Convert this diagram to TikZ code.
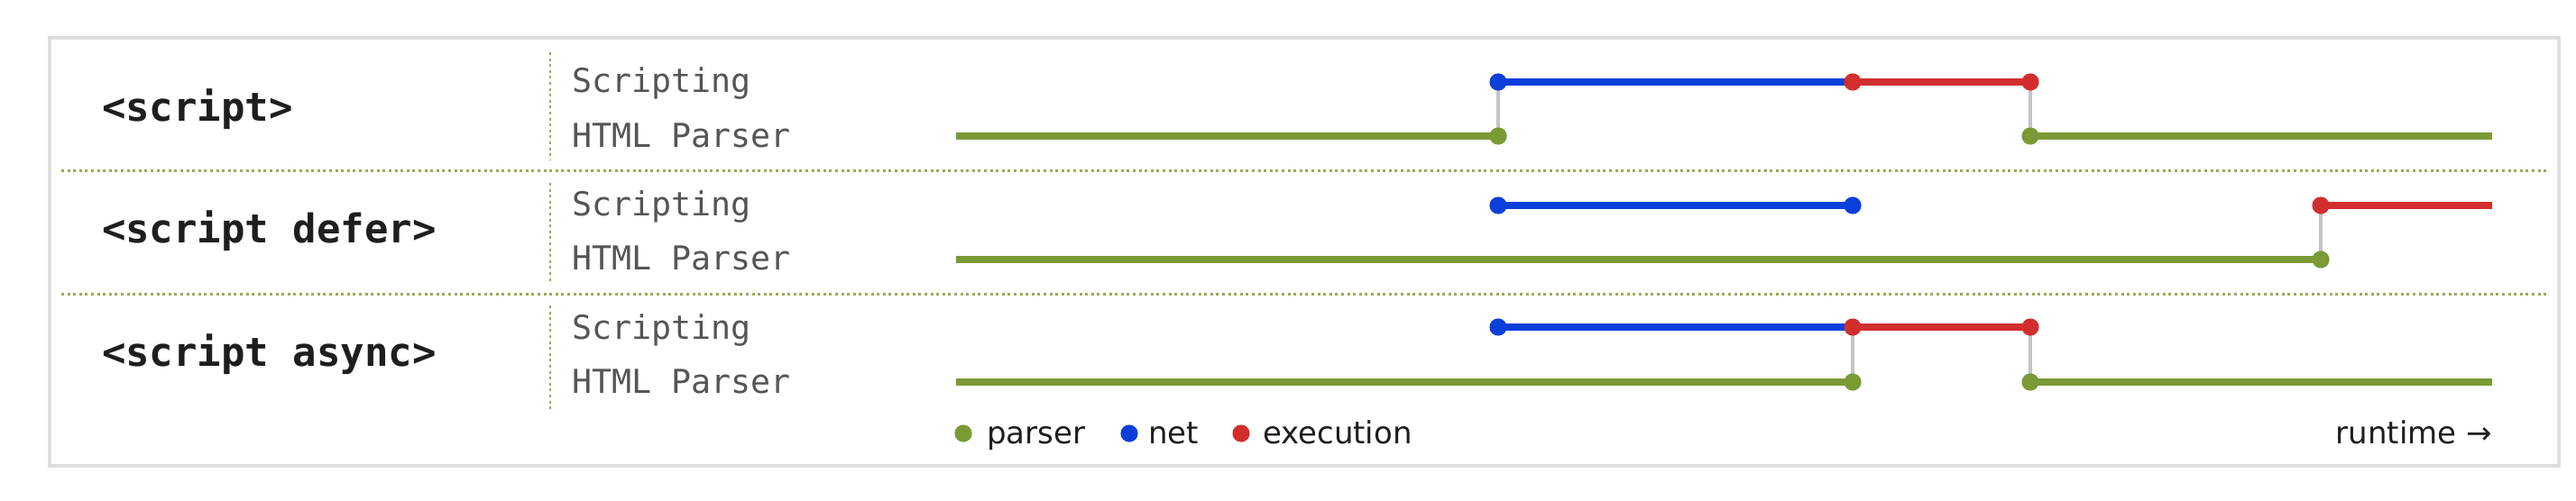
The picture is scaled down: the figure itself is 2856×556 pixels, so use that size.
\documentclass[tikz,border=0pt]{standalone}
\usepackage{fontspec}
\setmainfont{DejaVu Sans}
\setmonofont{DejaVu Sans Mono}
\usetikzlibrary{backgrounds}
\definecolor{pgreen}{HTML}{7A9A35}
\definecolor{pblue}{HTML}{0B3FDA}
\definecolor{pred}{HTML}{D22E2E}
\definecolor{frame}{HTML}{DEDEDE}
\definecolor{sepcol}{HTML}{9DA955}
\definecolor{lanegray}{HTML}{555555}
\definecolor{linkgray}{HTML}{C4C4C4}
\definecolor{ink}{HTML}{1E1E1E}
\begin{document}
\begin{tikzpicture}[x=0.5pt,y=-0.5pt,
  every node/.style={inner sep=0pt,outer sep=0pt},
  gdot/.style={circle,fill=pgreen,minimum size=9.6pt},
  bdot/.style={circle,fill=pblue,minimum size=9.6pt},
  rdot/.style={circle,fill=pred,minimum size=9.6pt},
  gline/.style={draw=pgreen,line width=4pt},
  bline/.style={draw=pblue,line width=4pt},
  rline/.style={draw=pred,line width=4pt},
  link/.style={draw=linkgray,line width=1.6pt},
  sepline/.style={draw=sepcol,line width=1.5pt,dash pattern=on 1.5pt off 1.8pt},
  vsep/.style={draw=sepcol,line width=1.2pt,dash pattern=on 1.5pt off 1.8pt},
  rowlabel/.style={font=\ttfamily\bfseries\fontsize{22pt}{26pt}\selectfont,text=ink,anchor=base west},
  lanelabel/.style={font=\ttfamily\fontsize{18.3pt}{22pt}\selectfont,text=lanegray,anchor=base west},
  legtext/.style={font=\fontsize{17pt}{20pt}\selectfont,text=ink,anchor=base west}]
\useasboundingbox (0,0) rectangle (2856,556);
\draw[draw=frame,line width=2pt] (55,42) rectangle (2837,517);

% separators
\coordinate (h1a) at (68,190); \coordinate (h1b) at (2824,190);
\coordinate (h2a) at (68,326); \coordinate (h2b) at (2824,326);
\draw[sepline] (h1a) -- (h1b);
\draw[sepline] (h2a) -- (h2b);
\coordinate (v1a) at (610,58);  \coordinate (v1b) at (610,177);
\coordinate (v2a) at (610,203); \coordinate (v2b) at (610,313);
\coordinate (v3a) at (610,339); \coordinate (v3b) at (610,455);
\draw[vsep] (v1a) -- (v1b);
\draw[vsep] (v2a) -- (v2b);
\draw[vsep] (v3a) -- (v3b);

% row labels
\node[rowlabel] (l1) at (113,135) {<script>};
\node[rowlabel] (l2) at (113,270) {<script defer>};
\node[rowlabel] (l3) at (113,406) {<script async>};
\node[lanelabel] (s1t) at (634,103) {Scripting};
\node[lanelabel] (p1t) at (634,163) {HTML Parser};
\node[lanelabel] (s2t) at (634,240) {Scripting};
\node[lanelabel] (p2t) at (634,299) {HTML Parser};
\node[lanelabel] (s3t) at (634,376) {Scripting};
\node[lanelabel] (p3t) at (634,436) {HTML Parser};

% row 1
\coordinate (p1s) at (1060,151);
\node[gdot] (p1a) at (1661,151) {};
\node[bdot] (s1a) at (1661,91) {};
\node[rdot] (s1b) at (2054,91) {};
\node[rdot] (s1c) at (2251,91) {};
\node[gdot] (p1b) at (2251,151) {};
\coordinate (p1e) at (2763,151);
% row 2
\coordinate (p2s) at (1060,288);
\node[gdot] (p2a) at (2573,288) {};
\node[bdot] (s2a) at (1661,228) {};
\node[bdot] (s2b) at (2054,228) {};
\node[rdot] (s2c) at (2573,228) {};
\coordinate (s2e) at (2763,228);
% row 3
\coordinate (p3s) at (1060,424);
\node[gdot] (p3a) at (2054,424) {};
\node[gdot] (p3b) at (2251,424) {};
\coordinate (p3e) at (2763,424);
\node[bdot] (s3a) at (1661,363) {};
\node[rdot] (s3b) at (2054,363) {};
\node[rdot] (s3c) at (2251,363) {};

\begin{scope}[on background layer]
\draw[link] (p1a.center) -- (s1a.center);
\draw[link] (s1c.center) -- (p1b.center);
\draw[link] (p2a.center) -- (s2c.center);
\draw[link] (p3a.center) -- (s3b.center);
\draw[link] (p3b.center) -- (s3c.center);
\draw[gline] (p1s) -- (p1a.center);
\draw[gline] (p1b.center) -- (p1e);
\draw[gline] (p2s) -- (p2a.center);
\draw[gline] (p3s) -- (p3a.center);
\draw[gline] (p3b.center) -- (p3e);
\draw[bline] (s1a.center) -- (s1b.center);
\draw[bline] (s2a.center) -- (s2b.center);
\draw[bline] (s3a.center) -- (s3b.center);
\draw[rline] (s1b.center) -- (s1c.center);
\draw[rline] (s2c.center) -- (s2e);
\draw[rline] (s3b.center) -- (s3c.center);
\end{scope}

% legend
\node[gdot] (lg) at (1068,481) {};
\node[legtext] (lgt) at (1094,492) {parser};
\node[bdot] (lb) at (1252,481) {};
\node[legtext] (lbt) at (1273,492) {net};
\node[rdot] (lr) at (1376,481) {};
\node[legtext] (lrt) at (1400,492) {execution};
\node[legtext,anchor=base east] (rt) at (2763,492) {runtime →};
\end{tikzpicture}
\end{document}
